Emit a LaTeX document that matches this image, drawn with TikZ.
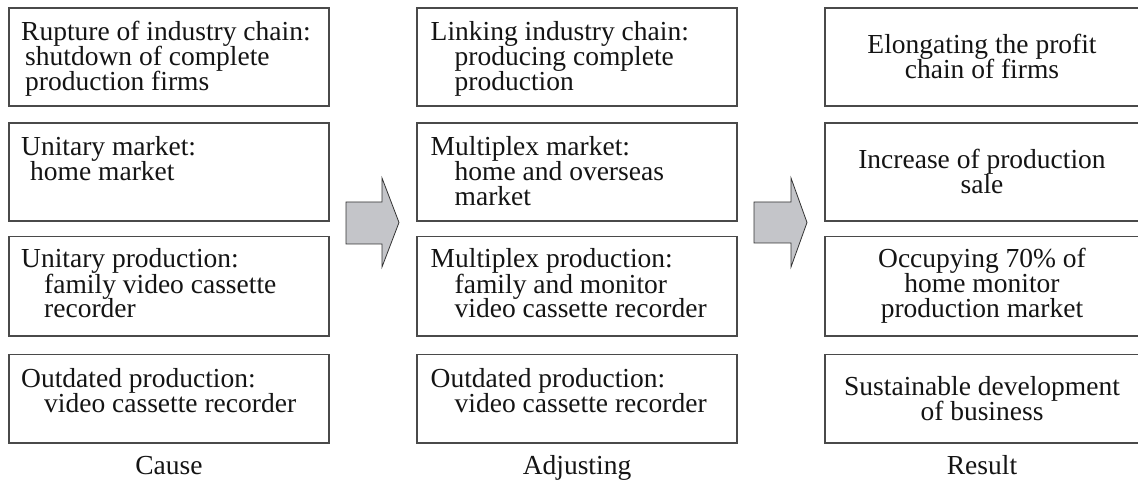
\documentclass[tikz,border=0pt]{standalone}
\usepackage{fontspec}
\setmainfont{Liberation Serif}
\definecolor{boxline}{HTML}{4A4A4A}
\definecolor{arrowline}{HTML}{333333}
\definecolor{arrowfill}{HTML}{C4C5C9}
\definecolor{ink}{HTML}{141414}
\newcommand\bodyfont{\fontsize{27.5pt}{25pt}\selectfont}
% stacked lines: baseline of the stack is the baseline of its first line
\newcommand\leftlines[1]{\vtop{\baselineskip=25pt\lineskiplimit=-20pt\lineskip=0pt\halign{##\hfil\cr#1\crcr}}}
\newcommand\midlines[1]{\vtop{\baselineskip=25pt\lineskiplimit=-20pt\lineskip=0pt\halign{\hfil##\hfil\cr#1\crcr}}}
\newcommand\ind[1]{\hskip#1pt\relax}
\tikzset{
  box/.style={draw=boxline, line width=1.1pt, rectangle, inner sep=0pt, outer sep=0pt},
  txtleft/.style={anchor=base west, inner sep=0pt, text=ink, font=\bodyfont},
  txtmid/.style={anchor=base, inner sep=0pt, text=ink, font=\bodyfont},
  blockarrow/.style={draw=arrowline, fill=arrowfill, line width=0.8pt, line join=miter},
}
\begin{document}
\begin{tikzpicture}[x=1pt, y=-1pt]
\useasboundingbox (0,0) rectangle (1138,481);
\clip (0,0) rectangle (1138,481);

% boxes of the three columns
\node[box, minimum width=320pt, minimum height=98pt]  (c1) at (169,57) {};
\node[box, minimum width=320pt, minimum height=98pt]  (c2) at (169,172) {};
\node[box, minimum width=320pt, minimum height=99.5pt] (c3) at (169,286.25) {};
\node[box, minimum width=320pt, minimum height=88.5pt] (c4) at (169,398.75) {};

\node[box, minimum width=320pt, minimum height=98pt]  (a1) at (577,57) {};
\node[box, minimum width=320pt, minimum height=98pt]  (a2) at (577,172) {};
\node[box, minimum width=320pt, minimum height=99.5pt] (a3) at (577,286.25) {};
\node[box, minimum width=320pt, minimum height=88.5pt] (a4) at (577,398.75) {};

\node[box, minimum width=316pt, minimum height=98pt]  (r1) at (983,57) {};
\node[box, minimum width=316pt, minimum height=98pt]  (r2) at (983,172) {};
\node[box, minimum width=316pt, minimum height=99.5pt] (r3) at (983,286.25) {};
\node[box, minimum width=316pt, minimum height=88.5pt] (r4) at (983,398.75) {};

% texts of the cause column
\node[txtleft] (c1t) at (21,41) {\leftlines{Rupture of industry chain:\cr\ind{4}shutdown of complete\cr\ind{4}production firms}};
\node[txtleft] (c2t) at (21,156) {\leftlines{Unitary market:\cr\ind{9}home market}};
\node[txtleft] (c3t) at (21,268) {\leftlines{Unitary production:\cr\ind{23}family video cassette\cr\ind{23}recorder}};
\node[txtleft] (c4t) at (21,387) {\leftlines{Outdated production:\cr\ind{23}video cassette recorder}};

% texts of the adjusting column
\node[txtleft] (a1t) at (430.5,41) {\leftlines{Linking industry chain:\cr\ind{24}producing complete\cr\ind{24}production}};
\node[txtleft] (a2t) at (430.5,156) {\leftlines{Multiplex market:\cr\ind{24}home and overseas\cr\ind{24}market}};
\node[txtleft] (a3t) at (430.5,268) {\leftlines{Multiplex production:\cr\ind{24}family and monitor\cr\ind{24}video cassette recorder}};
\node[txtleft] (a4t) at (430.5,387) {\leftlines{Outdated production:\cr\ind{24}video cassette recorder}};

% texts of the result column
\node[txtmid] (r1t) at (982,53.5) {\midlines{Elongating the profit\cr chain of firms}};
\node[txtmid] (r2t) at (982,168.5) {\midlines{Increase of production\cr sale}};
\node[txtmid] (r3t) at (982,267.5) {\midlines{Occupying 70\% of\cr home monitor\cr production market}};
\node[txtmid] (r4t) at (982,395) {\midlines{Sustainable development\cr of business}};

% column captions
\node[txtmid] (capc) at (169,474.5) {Cause};
\node[txtmid] (capa) at (577,474.5) {Adjusting};
\node[txtmid] (capr) at (982,474.5) {Result};

% block arrows between the columns
\draw[blockarrow] (346,202) -- (382,202) -- (382,178) -- (399,222.5) -- (382,267) -- (382,244) -- (346,244) -- cycle;
\draw[blockarrow] (754,202) -- (791,202) -- (791,178) -- (807,222.5) -- (791,267) -- (791,243) -- (754,243) -- cycle;
\end{tikzpicture}
\end{document}
